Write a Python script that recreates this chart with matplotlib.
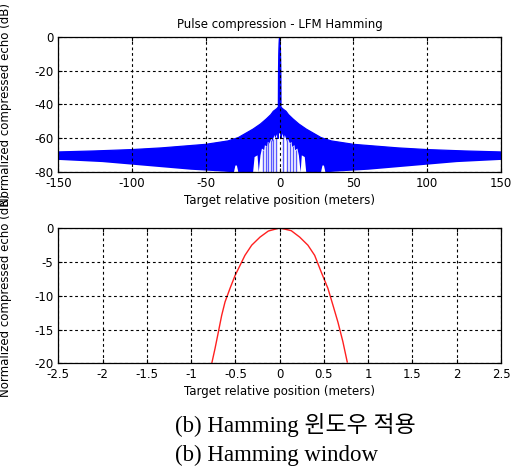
import matplotlib
matplotlib.use("Agg")
import matplotlib.pyplot as plt
import numpy as np

# ---------------- data ----------------
# Top panel: upper envelope of the dense compressed-echo trace (dB) vs position (m)
env_x = [-150, -125, -100, -80, -50, -35, -28, -22, -18, -13, -9, -6, -4.3, -2, -1.4,
         -1.0, -0.767, -0.693, -0.617, -0.504, -0.392, -0.222, 0.0, 0.226, 0.395,
         0.545, 0.658, 0.763, 1.0, 1.4, 2, 4.3, 6, 9, 13, 18, 22, 28, 35, 50, 80,
         100, 125, 150]
env_upper = [-68.0, -67.4, -66.6, -65.6, -63.5, -61.5, -59.5, -56.5, -54.5, -51.5,
             -48.5, -46.0, -44.0, -42.5, -42.0,
             -60.0, -20.0, -15.4, -10.9, -7.0, -4.0, -1.3, 0.0, -1.3, -4.0,
             -8.9, -13.9, -19.8, -60.0,
             -42.0, -42.5, -44.0, -46.0, -48.5, -51.5, -54.5, -56.5, -59.5, -61.5,
             -63.5, -65.6, -66.6, -67.4, -68.0]
# lower edge of the blue band (white gaps show where it rises)
low_x = [-150, -120, -100, -80, -60, -40, -31, -30, -29, -28, -18, -17, -15, -14.2,
         -13, -12, -10.5, -10, -8.5, -8, -7, -5.5, -5, -3.5, -3, -1.5, 1.5, 3, 3.5,
         5, 5.5, 7, 8, 8.5, 10, 10.5, 12, 13, 14.2, 15, 17,
         18, 28, 29, 30, 31, 40, 60, 80, 100, 120, 150]
env_lower = [-72.7, -74.0, -75.5, -77.0, -78.5, -79.5, -80, -76, -76, -80, -80, -71,
             -70, -80, -70, -66, -67, -64, -65, -62, -63, -60, -62, -58, -60, -57,
             -57, -60, -58, -62, -60, -63, -62, -65, -64, -67, -66, -70, -80, -70,
             -71, -80, -80, -76, -76, -80, -79.5, -78.5, -77.0, -75.5, -74.0, -72.7]
# lighter sidelobe spikes standing inside the white gaps near the centre
spike_x = [-11.1, -9.3, -7.7, -6.1, -4.3, -2.5, 2.5, 4.7, 7.0, 9.2, 11.1]

# Bottom panel: main lobe (dB) vs position (m)
lobe_x = [-0.767, -0.730, -0.693, -0.655, -0.617, -0.561, -0.504, -0.448, -0.392,
          -0.316, -0.222, -0.128, -0.015, 0.018, 0.131, 0.226, 0.319, 0.395, 0.47,
          0.545, 0.602, 0.658, 0.714, 0.763]
lobe_db = [-20.0, -17.8, -15.4, -12.9, -10.9, -8.9, -7.0, -5.5, -4.0, -2.5, -1.3,
           -0.4, 0.0, 0.0, -0.35, -1.3, -2.5, -4.0, -6.5, -8.9, -11.4, -13.9,
           -16.8, -19.8]

top_xticks = [-150, -100, -50, 0, 50, 100, 150]
top_yticks = [0, -20, -40, -60, -80]
bot_xticks = [-2.5, -2, -1.5, -1, -0.5, 0, 0.5, 1, 1.5, 2, 2.5]
bot_yticks = [0, -5, -10, -15, -20]

title = "Pulse compression - LFM Hamming"
xlab = "Target relative position (meters)"
ylab = "Normalized compressed echo (dB)"
cap1 = "(b) Hamming 윈도우 적용"
cap2 = "(b) Hamming window"

# ---------------- drawing ----------------
plt.rcParams['font.family'] = ['DejaVu Sans']
fs = 8.5

fig = plt.figure(figsize=(5.17, 4.74), dpi=100)
ax1 = fig.add_axes([0.1128, 0.6365, 0.8563, 0.2861])
ax2 = fig.add_axes([0.1128, 0.2335, 0.8563, 0.2848])

blue = '#0000ff'
xx = np.union1d(env_x, low_x)
up = np.interp(xx, env_x, env_upper)
lo = np.interp(xx, low_x, env_lower)
ax1.fill_between(xx, lo, up, where=up >= lo, color=blue, lw=0, interpolate=True)
ax1.plot(env_x, env_upper, color=blue, lw=0.9)
spike_top = np.interp(spike_x, low_x, env_lower)
ax1.vlines(spike_x, -80, spike_top, color='#5a5aff', lw=1.0)

ax2.plot(lobe_x, lobe_db, color='#ff2020', lw=1.0)

def style(ax, xlim, ylim, xt, yt):
    ax.set_xlim(*xlim)
    ax.set_ylim(*ylim)
    ax.set_xticks(xt)
    ax.set_yticks(yt)
    ax.set_xticklabels([f"{v:g}" for v in xt], fontsize=fs)
    ax.set_yticklabels([f"{v:g}" for v in yt], fontsize=fs)
    ax.tick_params(direction='in', length=3, width=0.8, pad=3.5, top=True, right=True,
                   colors='black')
    ax.grid(True, color='black', linestyle=(0, (2.5, 2.5)), lw=0.8)
    ax.set_axisbelow(False)
    for s in ax.spines.values():
        s.set_linewidth(0.9)
    ax.set_xlabel(xlab, fontsize=fs, labelpad=3)
    ax.set_ylabel(ylab, fontsize=fs)
    ax.yaxis.set_label_coords(-0.105, 0.5)

style(ax1, (-150, 150), (-80, 0), top_xticks, top_yticks)
style(ax2, (-2.5, 2.5), (-20, 0), bot_xticks, bot_yticks)
ax1.set_title(title, fontsize=fs, pad=6.5)

capfam = ['Liberation Serif', 'Noto Sans CJK KR']
fig.text(175 / 517, 1 - 425 / 474, cap1, ha='left', va='center', fontsize=16.5, family=capfam)
fig.text(175 / 517, 1 - 455 / 474, cap2, ha='left', va='center', fontsize=16.5, family=capfam)

fig.savefig("out.png", dpi=100)
